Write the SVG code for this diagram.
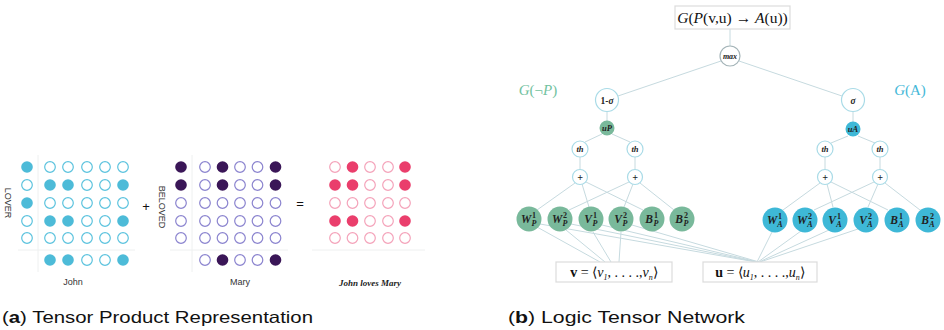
<svg xmlns="http://www.w3.org/2000/svg" width="944" height="330" viewBox="0 0 944 330">
<style>
.jf{fill:#4dbbd8}
.je{fill:#fff;stroke:#5cc3de;stroke-width:1.2}
.mf{fill:#3a1657}
.me{fill:#fff;stroke:#8b84cf;stroke-width:1.2}
.pf{fill:#ea3e6c}
.pe{fill:#fff;stroke:#f4a3ba;stroke-width:1.2}
.sep{stroke:#eef0f0;stroke-width:1}
.lbl{font-family:"Liberation Sans",Arial,sans-serif;font-size:9px;fill:#333}
.cap{font-family:"Liberation Sans",Arial,sans-serif;font-size:16.5px;fill:#111}
.edge{stroke:#c6dadf;stroke-width:1;fill:none}
.en{fill:#fff;stroke:#a9dbe7;stroke-width:1.2}
.gn{fill:#79b99b}
.bn{fill:#3eb8d7}
.nt{font-family:"Liberation Serif","Times New Roman",serif;font-style:italic;font-weight:bold;fill:#222;text-anchor:middle}
.sup{font-family:"Liberation Serif",serif;font-weight:bold;fill:#222;font-size:8px;text-anchor:middle}
.box{fill:#fff;stroke:#dcdcdc;stroke-width:1.2}
.bt{font-family:"Liberation Serif","Times New Roman",serif;fill:#111}
</style>

<!-- Panel (a) -->
<g id="john">
<line class="sep" x1="38" y1="155" x2="38" y2="272"/>
<line class="sep" x1="18" y1="250" x2="135" y2="250"/>
<circle class="jf" cx="27" cy="167" r="5.8"/>
<circle class="je" cx="27" cy="185" r="5.3"/>
<circle class="jf" cx="27" cy="203" r="5.8"/>
<circle class="je" cx="27" cy="221" r="5.3"/>
<circle class="je" cx="27" cy="238" r="5.3"/>
<circle class="je" cx="50" cy="167" r="5.3"/><circle class="je" cx="68" cy="167" r="5.3"/><circle class="je" cx="87" cy="167" r="5.3"/><circle class="je" cx="105" cy="167" r="5.3"/><circle class="je" cx="123" cy="167" r="5.3"/>
<circle class="jf" cx="50" cy="185" r="5.8"/><circle class="jf" cx="68" cy="185" r="5.8"/><circle class="je" cx="87" cy="185" r="5.3"/><circle class="je" cx="105" cy="185" r="5.3"/><circle class="jf" cx="123" cy="185" r="5.8"/>
<circle class="je" cx="50" cy="203" r="5.3"/><circle class="je" cx="68" cy="203" r="5.3"/><circle class="je" cx="87" cy="203" r="5.3"/><circle class="je" cx="105" cy="203" r="5.3"/><circle class="je" cx="123" cy="203" r="5.3"/>
<circle class="jf" cx="50" cy="221" r="5.8"/><circle class="jf" cx="68" cy="221" r="5.8"/><circle class="je" cx="87" cy="221" r="5.3"/><circle class="je" cx="105" cy="221" r="5.3"/><circle class="jf" cx="123" cy="221" r="5.8"/>
<circle class="je" cx="50" cy="238" r="5.3"/><circle class="je" cx="68" cy="238" r="5.3"/><circle class="je" cx="87" cy="238" r="5.3"/><circle class="je" cx="105" cy="238" r="5.3"/><circle class="je" cx="123" cy="238" r="5.3"/>
<circle class="jf" cx="50" cy="260" r="5.8"/><circle class="jf" cx="68" cy="260" r="5.8"/><circle class="je" cx="87" cy="260" r="5.3"/><circle class="je" cx="105" cy="260" r="5.3"/><circle class="jf" cx="123" cy="260" r="5.8"/>
<text class="lbl" transform="translate(5,203) rotate(90)" text-anchor="middle">LOVER</text>
<text class="lbl" x="73" y="285" text-anchor="middle">John</text>
</g>

<text x="146" y="211" font-family="Liberation Sans,sans-serif" font-size="13" text-anchor="middle" fill="#111">+</text>

<g id="mary">
<line class="sep" x1="192" y1="155" x2="192" y2="272"/>
<line class="sep" x1="170" y1="250" x2="288" y2="250"/>
<circle class="mf" cx="181" cy="167" r="5.8"/>
<circle class="mf" cx="181" cy="185" r="5.8"/>
<circle class="me" cx="181" cy="203" r="5.3"/>
<circle class="me" cx="181" cy="221" r="5.3"/>
<circle class="me" cx="181" cy="238" r="5.3"/>
<circle class="me" cx="205" cy="167" r="5.3"/><circle class="mf" cx="222.5" cy="167" r="5.8"/><circle class="me" cx="240" cy="167" r="5.3"/><circle class="me" cx="257.5" cy="167" r="5.3"/><circle class="mf" cx="275.5" cy="167" r="5.8"/>
<circle class="me" cx="205" cy="185" r="5.3"/><circle class="mf" cx="222.5" cy="185" r="5.8"/><circle class="me" cx="240" cy="185" r="5.3"/><circle class="me" cx="257.5" cy="185" r="5.3"/><circle class="mf" cx="275.5" cy="185" r="5.8"/>
<circle class="me" cx="205" cy="203" r="5.3"/><circle class="me" cx="222.5" cy="203" r="5.3"/><circle class="me" cx="240" cy="203" r="5.3"/><circle class="me" cx="257.5" cy="203" r="5.3"/><circle class="me" cx="275.5" cy="203" r="5.3"/>
<circle class="me" cx="205" cy="221" r="5.3"/><circle class="me" cx="222.5" cy="221" r="5.3"/><circle class="me" cx="240" cy="221" r="5.3"/><circle class="me" cx="257.5" cy="221" r="5.3"/><circle class="me" cx="275.5" cy="221" r="5.3"/>
<circle class="me" cx="205" cy="238" r="5.3"/><circle class="me" cx="222.5" cy="238" r="5.3"/><circle class="me" cx="240" cy="238" r="5.3"/><circle class="me" cx="257.5" cy="238" r="5.3"/><circle class="me" cx="275.5" cy="238" r="5.3"/>
<circle class="me" cx="205" cy="260" r="5.3"/><circle class="mf" cx="222.5" cy="260" r="5.8"/><circle class="me" cx="240" cy="260" r="5.3"/><circle class="me" cx="257.5" cy="260" r="5.3"/><circle class="mf" cx="275.5" cy="260" r="5.8"/>
<text class="lbl" transform="translate(159,207) rotate(90)" text-anchor="middle">BELOVED</text>
<text class="lbl" x="240" y="285" text-anchor="middle">Mary</text>
</g>

<text x="300" y="208" font-family="Liberation Sans,sans-serif" font-size="13" text-anchor="middle" fill="#111">=</text>

<g id="johnlovesmary">
<line class="sep" x1="312" y1="250" x2="425" y2="250"/>
<circle class="pe" cx="335" cy="167" r="5.3"/><circle class="pf" cx="352.5" cy="167" r="5.8"/><circle class="pe" cx="370" cy="167" r="5.3"/><circle class="pe" cx="388" cy="167" r="5.3"/><circle class="pf" cx="405" cy="167" r="5.8"/>
<circle class="pf" cx="335" cy="185" r="5.8"/><circle class="pf" cx="352.5" cy="185" r="5.8"/><circle class="pe" cx="370" cy="185" r="5.3"/><circle class="pe" cx="388" cy="185" r="5.3"/><circle class="pf" cx="405" cy="185" r="5.8"/>
<circle class="pe" cx="335" cy="203" r="5.3"/><circle class="pe" cx="352.5" cy="203" r="5.3"/><circle class="pe" cx="370" cy="203" r="5.3"/><circle class="pe" cx="388" cy="203" r="5.3"/><circle class="pe" cx="405" cy="203" r="5.3"/>
<circle class="pf" cx="335" cy="221" r="5.8"/><circle class="pf" cx="352.5" cy="221" r="5.8"/><circle class="pe" cx="370" cy="221" r="5.3"/><circle class="pe" cx="388" cy="221" r="5.3"/><circle class="pf" cx="405" cy="221" r="5.8"/>
<circle class="pe" cx="335" cy="238" r="5.3"/><circle class="pe" cx="352.5" cy="238" r="5.3"/><circle class="pe" cx="370" cy="238" r="5.3"/><circle class="pe" cx="388" cy="238" r="5.3"/><circle class="pe" cx="405" cy="238" r="5.3"/>
<text x="370" y="286" font-family="Liberation Serif,serif" font-style="italic" font-weight="bold" font-size="9" text-anchor="middle" fill="#222">John loves Mary</text>
</g>

<!-- Panel (b) connectors -->
<g id="connectors" class="edge">
<line x1="730" y1="29" x2="730" y2="46"/>
<line x1="721" y1="61" x2="618" y2="96"/>
<line x1="739" y1="61" x2="842" y2="96"/>
<line x1="607" y1="111" x2="607" y2="121"/>
<line x1="602" y1="134" x2="585" y2="142"/>
<line x1="612" y1="134" x2="630" y2="142"/>
<line x1="580" y1="157" x2="580" y2="169"/>
<line x1="635" y1="157" x2="635" y2="169"/>
<line x1="853" y1="111" x2="853" y2="122"/>
<line x1="848" y1="136" x2="831" y2="143"/>
<line x1="858" y1="136" x2="875" y2="143"/>
<line x1="825" y1="157" x2="825" y2="169"/>
<line x1="880" y1="157" x2="880" y2="169"/>
<line x1="575" y1="183" x2="537" y2="210"/>
<line x1="582" y1="184" x2="589" y2="207"/>
<line x1="586" y1="182" x2="643" y2="210"/>
<line x1="629" y1="182" x2="569" y2="210"/>
<line x1="633" y1="184" x2="624" y2="207"/>
<line x1="640" y1="183" x2="674" y2="210"/>
<line x1="820" y1="183" x2="783" y2="210"/>
<line x1="827" y1="184" x2="833" y2="207"/>
<line x1="831" y1="182" x2="888" y2="210"/>
<line x1="874" y1="182" x2="814" y2="210"/>
<line x1="878" y1="184" x2="868" y2="207"/>
<line x1="885" y1="183" x2="920" y2="210"/>
<line x1="537" y1="227" x2="600" y2="262"/>
<line x1="566" y1="230" x2="605" y2="262"/>
<line x1="593" y1="232" x2="611" y2="262"/>
<line x1="621" y1="232" x2="619" y2="262"/>
<line x1="540" y1="224" x2="756" y2="262"/>
<line x1="571" y1="224" x2="757" y2="262"/>
<line x1="602" y1="225" x2="758" y2="262"/>
<line x1="632" y1="225" x2="759" y2="262"/>
<line x1="772" y1="232" x2="757" y2="262"/>
<line x1="801" y1="231" x2="758" y2="262"/>
<line x1="829" y1="230" x2="759" y2="262"/>
<line x1="858" y1="229" x2="760" y2="262"/>
</g>

<g id="top">
<rect class="box" x="675" y="6" width="115" height="23"/>
<text class="bt" x="732.5" y="23" font-size="15.5" text-anchor="middle"><tspan font-style="italic">G</tspan>(<tspan font-style="italic">P</tspan>(v,u) → <tspan font-style="italic">A</tspan>(u))</text>
</g>
<g id="max"><circle cx="730" cy="56" r="10" fill="#fff" stroke="#a4b4b8" stroke-width="1.2"/><text class="nt" x="730" y="59" font-size="8">max</text></g>
<g id="one-sigma"><circle class="en" cx="607" cy="100" r="11.5"/><text class="nt" x="607" y="103.5" font-size="9.5"><tspan font-style="normal">1-</tspan>σ</text></g>
<g id="uP"><circle class="gn" cx="607" cy="128" r="7.5"/><text class="nt" x="607" y="131" font-size="8.5">uP</text></g>
<g id="thP1"><circle class="en" cx="580" cy="149" r="8"/><text class="nt" x="580" y="152" font-size="8.5">th</text></g>
<g id="thP2"><circle class="en" cx="635" cy="149" r="8"/><text class="nt" x="635" y="152" font-size="8.5">th</text></g>
<g id="plusP1"><circle class="en" cx="580" cy="177" r="7.5"/><text class="nt" x="580" y="180.5" font-size="10" font-style="normal">+</text></g>
<g id="plusP2"><circle class="en" cx="635" cy="177" r="7.5"/><text class="nt" x="635" y="180.5" font-size="10" font-style="normal">+</text></g>
<g id="sigma"><circle class="en" cx="853" cy="100" r="11.5"/><text class="nt" x="853" y="103.5" font-size="9.5">σ</text></g>
<g id="uA"><circle class="bn" cx="853" cy="129" r="7.5"/><text class="nt" x="853" y="132" font-size="8.5">uA</text></g>
<g id="thA1"><circle class="en" cx="825" cy="149" r="8"/><text class="nt" x="825" y="152" font-size="8.5">th</text></g>
<g id="thA2"><circle class="en" cx="880" cy="149" r="8"/><text class="nt" x="880" y="152" font-size="8.5">th</text></g>
<g id="plusA1"><circle class="en" cx="825" cy="177" r="7.5"/><text class="nt" x="825" y="180.5" font-size="10" font-style="normal">+</text></g>
<g id="plusA2"><circle class="en" cx="880" cy="177" r="7.5"/><text class="nt" x="880" y="180.5" font-size="10" font-style="normal">+</text></g>

<g id="W1P"><circle class="gn" cx="529" cy="219" r="12.5"/><text class="nt" x="526" y="223" font-size="11.5">W</text><text class="sup" x="534" y="218">1</text><text class="sup" x="534" y="226" font-style="italic">P</text></g>
<g id="W2P"><circle class="gn" cx="560" cy="219" r="12.5"/><text class="nt" x="557" y="223" font-size="11.5">W</text><text class="sup" x="565" y="218">2</text><text class="sup" x="565" y="226" font-style="italic">P</text></g>
<g id="V1P"><circle class="gn" cx="591" cy="219" r="12.5"/><text class="nt" x="588" y="223" font-size="11.5">V</text><text class="sup" x="595" y="218">1</text><text class="sup" x="595" y="226" font-style="italic">P</text></g>
<g id="V2P"><circle class="gn" cx="621" cy="219" r="12.5"/><text class="nt" x="618" y="223" font-size="11.5">V</text><text class="sup" x="625" y="218">2</text><text class="sup" x="625" y="226" font-style="italic">P</text></g>
<g id="B1P"><circle class="gn" cx="652" cy="219" r="12.5"/><text class="nt" x="649" y="223" font-size="11.5">B</text><text class="sup" x="656" y="218">1</text><text class="sup" x="656" y="226" font-style="italic">P</text></g>
<g id="B2P"><circle class="gn" cx="682" cy="219" r="12.5"/><text class="nt" x="679" y="223" font-size="11.5">B</text><text class="sup" x="686" y="218">2</text><text class="sup" x="686" y="226" font-style="italic">P</text></g>

<g id="W1A"><circle class="bn" cx="775" cy="220" r="12.5"/><text class="nt" x="772" y="224" font-size="11.5">W</text><text class="sup" x="780" y="219">1</text><text class="sup" x="780" y="227" font-style="italic">A</text></g>
<g id="W2A"><circle class="bn" cx="805" cy="220" r="12.5"/><text class="nt" x="802" y="224" font-size="11.5">W</text><text class="sup" x="810" y="219">2</text><text class="sup" x="810" y="227" font-style="italic">A</text></g>
<g id="V1A"><circle class="bn" cx="835" cy="220" r="12.5"/><text class="nt" x="832" y="224" font-size="11.5">V</text><text class="sup" x="839" y="219">1</text><text class="sup" x="839" y="227" font-style="italic">A</text></g>
<g id="V2A"><circle class="bn" cx="866" cy="220" r="12.5"/><text class="nt" x="863" y="224" font-size="11.5">V</text><text class="sup" x="870" y="219">2</text><text class="sup" x="870" y="227" font-style="italic">A</text></g>
<g id="B1A"><circle class="bn" cx="897" cy="220" r="12.5"/><text class="nt" x="894" y="224" font-size="11.5">B</text><text class="sup" x="901" y="219">1</text><text class="sup" x="901" y="227" font-style="italic">A</text></g>
<g id="B2A"><circle class="bn" cx="928" cy="220" r="12.5"/><text class="nt" x="925" y="224" font-size="11.5">B</text><text class="sup" x="932" y="219">2</text><text class="sup" x="932" y="227" font-style="italic">A</text></g>

<g id="vbox"><rect class="box" x="556" y="262" width="116" height="20"/>
<text class="bt" x="614" y="277" font-size="14" text-anchor="middle"><tspan font-weight="bold">v</tspan> = ⟨<tspan font-style="italic">v</tspan><tspan font-size="8" font-style="italic" dy="3">1</tspan><tspan dy="-3">, . . . .,</tspan><tspan font-style="italic">v</tspan><tspan font-size="8" font-style="italic" dy="3">n</tspan><tspan dy="-3">⟩</tspan></text></g>
<g id="ubox"><rect class="box" x="703" y="262" width="114" height="20"/>
<text class="bt" x="760" y="277" font-size="14" text-anchor="middle"><tspan font-weight="bold">u</tspan> = ⟨<tspan font-style="italic">u</tspan><tspan font-size="8" font-style="italic" dy="3">1</tspan><tspan dy="-3">, . . . .,</tspan><tspan font-style="italic">u</tspan><tspan font-size="8" font-style="italic" dy="3">n</tspan><tspan dy="-3">⟩</tspan></text></g>

<text x="538" y="95" font-family="Liberation Serif,serif" font-size="15" fill="#72c2a0" text-anchor="middle"><tspan font-style="italic">G</tspan>(¬<tspan font-style="italic">P</tspan>)</text>
<text x="910" y="95" font-family="Liberation Serif,serif" font-size="15" fill="#45b8d8" text-anchor="middle"><tspan font-style="italic">G</tspan>(A)</text>

<text class="cap" x="2" y="323" textLength="311" lengthAdjust="spacingAndGlyphs">(<tspan font-weight="bold">a</tspan>) Tensor Product Representation</text>
<text class="cap" x="508" y="323" textLength="237" lengthAdjust="spacingAndGlyphs">(<tspan font-weight="bold">b</tspan>) Logic Tensor Network</text>
</svg>
